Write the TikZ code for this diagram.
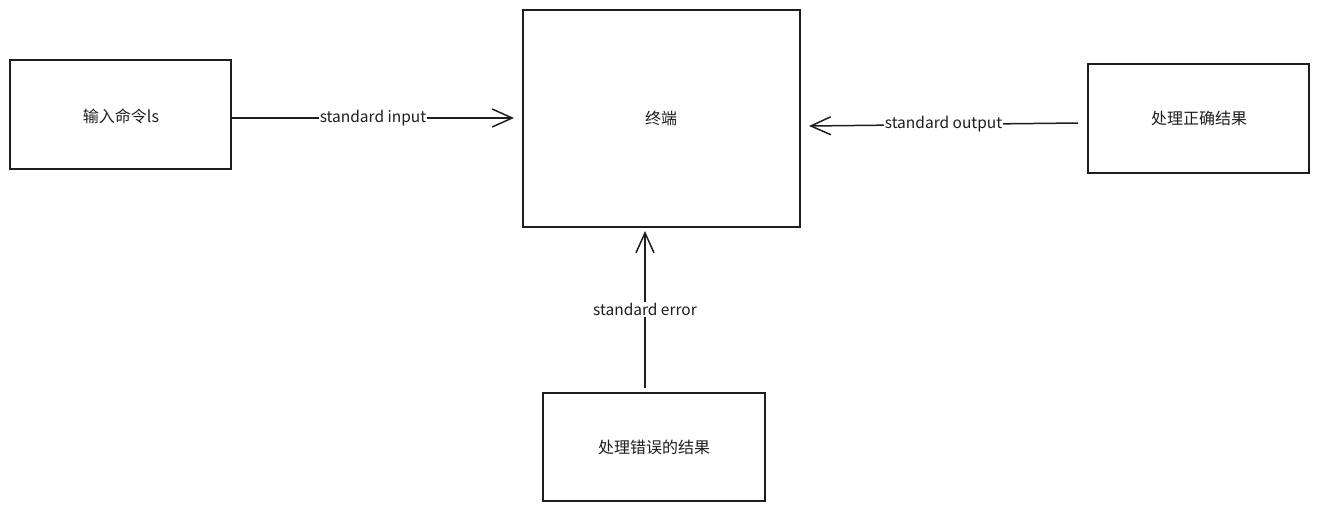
\documentclass[tikz,border=0pt]{standalone}
\usepackage{fontspec}
\setmainfont{Noto Sans CJK SC}
\usetikzlibrary{arrows.meta}
\definecolor{ink}{HTML}{1E1E1E}
\begin{document}
\begin{tikzpicture}[x=1pt,y=-1pt,
  box/.style={draw=ink,line width=1.5pt,inner sep=0pt},
  lbl/.style={font=\fontsize{16}{19}\selectfont,text=ink},
  conn/.style={draw=ink,line width=1.5pt,-{Straight Barb[length=20pt,width=18pt,line width=1.5pt]}},
  tag/.style={fill=white,inner sep=1pt,font=\fontsize{15.5}{18}\selectfont,text=ink}]
\useasboundingbox (0,0) rectangle (1319,512);
\draw[box] (10,60) rectangle (231,169);
\node[lbl] (inp) at (121,116) {输入命令ls};
\draw[box] (523,10) rectangle (800,227);
\node[lbl] (term) at (661,118) {终端};
\draw[box] (1088,64) rectangle (1309,173);
\node[lbl] (ok) at (1199,118) {处理正确结果};
\draw[box] (543,393) rectangle (765,501);
\node[lbl] (err) at (654,447) {处理错误的结果};
\coordinate (a1) at (232,118);
\coordinate (a2) at (514,118);
\coordinate (b1) at (1078,123);
\coordinate (b2) at (809,126);
\coordinate (c1) at (645,388);
\coordinate (c2) at (645,231);
\draw[conn] (a1) -- node[tag] {standard input} (a2);
\draw[conn] (b1) -- node[tag] {standard output} (b2);
\draw[conn] (c1) -- node[tag,pos=0.5] {standard error} (c2);
\end{tikzpicture}
\end{document}
